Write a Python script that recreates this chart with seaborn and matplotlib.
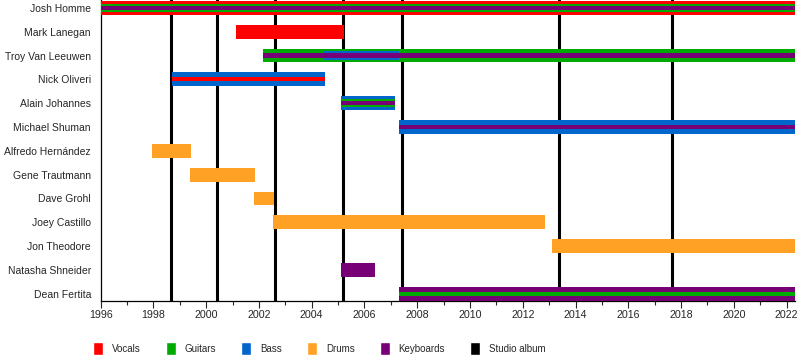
import matplotlib
matplotlib.use("Agg")
import matplotlib.pyplot as plt
from matplotlib.patches import Patch
from matplotlib.ticker import MultipleLocator
import seaborn as sns

# band members, top to bottom
members = ["Josh Homme", "Mark Lanegan", "Troy Van Leeuwen", "Nick Oliveri",
           "Alain Johannes", "Michael Shuman", "Alfredo Hernández", "Gene Trautmann",
           "Dave Grohl", "Joey Castillo", "Jon Theodore", "Natasha Shneider",
           "Dean Fertita"]
member_start = [1996.0, 2001.13, 2002.15, 1998.7, 2005.1, 2007.32, 1997.94, 1999.39,
                2001.81, 2002.53, 2013.1, 2005.1, 2007.32]
member_end = [2022.32, 2005.23, 2022.32, 2004.5, 2007.16, 2022.32, 1999.42, 2001.85,
              2002.57, 2012.84, 2022.32, 2006.4, 2022.32]
# roles from outer stripe to centre stripe
member_roles = [["Vocals", "Guitars", "Keyboards"], ["Vocals"], ["Guitars", "Keyboards"],
                ["Bass", "Vocals"], ["Bass", "Guitars", "Keyboards"], ["Bass", "Keyboards"],
                ["Drums"], ["Drums"], ["Drums"], ["Drums"], ["Drums"], ["Keyboards"],
                ["Keyboards", "Guitars"]]

# extra period with a different role mix
extra_member = ["Troy Van Leeuwen"]
extra_start = [2004.46]
extra_end = [2007.32]
extra_roles = [["Guitars", "Bass", "Keyboards"]]

album_years = [1998.66, 2000.42, 2002.6, 2005.2, 2007.43, 2013.38, 2017.65]

roles = ["Vocals", "Guitars", "Bass", "Drums", "Keyboards"]
role_colors = ["#ff0000", "#00aa00", "#0066cc", "#ffa124", "#770077"]
color_of = dict(zip(roles, role_colors))

sns.set_style("ticks")
plt.rcParams["font.family"] = ["Liberation Sans", "DejaVu Sans"]

fig = plt.figure(figsize=(8.1, 3.6), dpi=100)
ax = fig.add_axes([0.1243, 0.1647, 0.8572, 0.8353])

heights = {1: [0.58], 2: [0.58, 0.18], 3: [0.58, 0.35, 0.17]}


def draw_span(row, x0, x1, rl):
    for h, r in zip(heights[len(rl)], rl):
        ax.barh(row, x1 - x0, left=x0, height=h, color=color_of[r], linewidth=0, zorder=3)


for i, name in enumerate(members):
    draw_span(i, member_start[i], member_end[i], member_roles[i])
for name, s, e, rl in zip(extra_member, extra_start, extra_end, extra_roles):
    draw_span(members.index(name), s, e, rl)

for yr in album_years:
    ax.axvline(yr, color="black", linewidth=2.2, zorder=2)

ax.set_xlim(1996, 2022.32)
ax.set_ylim(len(members) - 1 + 0.29, -0.33)
ax.set_yticks(range(len(members)))
ax.set_yticklabels(members, fontsize=7.5)
ax.tick_params(axis="y", length=0, pad=7)
ax.xaxis.set_major_locator(MultipleLocator(2))
ax.xaxis.set_minor_locator(MultipleLocator(1))
ax.tick_params(axis="x", which="major", length=5, width=0.8, labelsize=7.7, pad=2, direction="out")
ax.tick_params(axis="x", which="minor", length=3, width=0.8, direction="out")
ax.grid(False)
sns.despine(ax=ax)
for sp in ["left", "bottom"]:
    ax.spines[sp].set_color("black")
    ax.spines[sp].set_linewidth(0.9)

handles = [Patch(facecolor=color_of[r], label=r) for r in roles]
handles.append(Patch(facecolor="black", label="Studio album"))
fig.legend(handles=handles, loc="center left", bbox_to_anchor=(0.1148, 0.031), ncol=6,
           frameon=False, fontsize=7, handlelength=1.03, handleheight=1.68,
           handletextpad=0.9, columnspacing=2.6, borderaxespad=0, borderpad=0)

fig.savefig("out.png", dpi=100)
